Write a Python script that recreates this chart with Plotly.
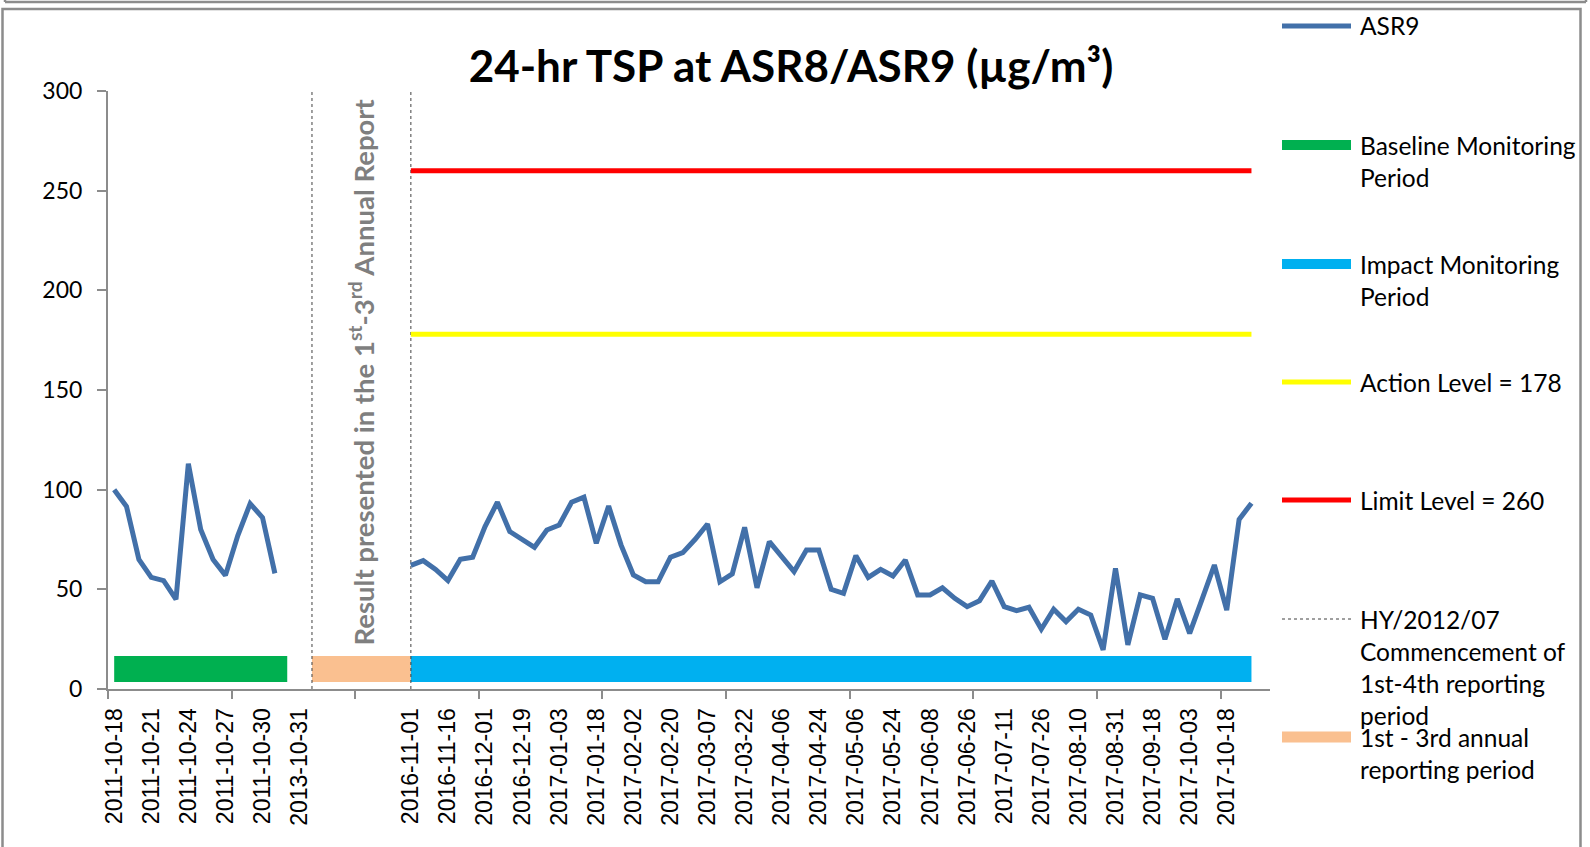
import plotly.graph_objects as go

# ---------------- data ----------------
baseline_values = [100, 91.5, 65, 56, 54.4, 45, 113, 80, 65, 57, 77, 93, 86, 58]
impact_values = [62, 64.4, 60, 54.4, 65.1, 66.1, 81.5, 93.7, 79, 75.3, 71.1, 79.8, 82.3, 93.7,
                 96.2, 73.1, 91.8, 72.3, 57.2, 53.8, 53.8, 66.1, 68.4, 75.1, 82.8, 53.8, 57.7,
                 81.1, 50.8, 73.9, 66.7, 58.9, 69.7, 69.7,
                 50, 48, 66.9, 56, 60, 56.7, 64.7, 47.2, 47.2, 50.8, 45.5, 41.3, 44.3, 54.2,
                 41.3, 39.3, 41, 30, 40, 33.8, 40, 37.1, 19.6, 60.5, 22.1, 47.2, 45.5, 24.9,
                 45.2, 27.9, 45, 62.2, 39.6, 85.1, 93.2]
baseline_start = 0
impact_start = 24
n_categories = 94
x_tick_labels = ["2011-10-18", "2011-10-21", "2011-10-24", "2011-10-27", "2011-10-30",
                 "2013-10-31", "", "", "2016-11-01", "2016-11-16", "2016-12-01", "2016-12-19",
                 "2017-01-03", "2017-01-18", "2017-02-02", "2017-02-20", "2017-03-07",
                 "2017-03-22", "2017-04-06", "2017-04-24", "2017-05-06", "2017-05-24",
                 "2017-06-08", "2017-06-26", "2017-07-11", "2017-07-26", "2017-08-10",
                 "2017-08-31", "2017-09-18", "2017-10-03", "2017-10-18"]
label_step = 3
major_tick_step = 10
baseline_period = [0, 14]
annual_report_period = [16, 24]
impact_period = [24, 92]
period_bar_level = 10
action_level = 178
limit_level = 260
commencement_lines = [16, 24]
y_ticks = [0, 50, 100, 150, 200, 250, 300]

# ---------------- layout geometry ----------------
W, H = 1590, 847
ML, MR, MT, MB = 108, 320, 91, 158
PW, PH = W - ML - MR, H - MT - MB


def px_x(p):
    return (p - ML) / PW


def px_y(p):
    return (H - MB - p) / PH


BLUE = "#4270A9"
GREEN = "#00B050"
LBLUE = "#00B0F0"
ORANGE = "#FAC090"
RED = "#FF0000"
YELLOW = "#FFFF00"
AXIS = "#8C8C8C"

fig = go.Figure()

# period bars
for period, col in [(baseline_period, GREEN), (annual_report_period, ORANGE), (impact_period, LBLUE)]:
    fig.add_trace(go.Scatter(x=period, y=[period_bar_level] * 2, mode="lines",
                             line=dict(color=col, width=26), hoverinfo="skip"))

# commencement dotted lines
for c in commencement_lines:
    fig.add_trace(go.Scatter(x=[c, c], y=[y_ticks[0], y_ticks[-1]], mode="lines",
                             line=dict(color="#404040", width=1, dash="dot"), hoverinfo="skip"))

# action / limit levels
fig.add_trace(go.Scatter(x=impact_period, y=[action_level] * 2, mode="lines",
                         line=dict(color=YELLOW, width=5)))
fig.add_trace(go.Scatter(x=impact_period, y=[limit_level] * 2, mode="lines",
                         line=dict(color=RED, width=5)))

# ASR9 series
xs = list(range(baseline_start, baseline_start + len(baseline_values))) + [None] + \
     list(range(impact_start, impact_start + len(impact_values)))
ys = baseline_values + [None] + impact_values
fig.add_trace(go.Scatter(x=xs, y=ys, mode="lines", connectgaps=False,
                         line=dict(color=BLUE, width=5)))

tickvals = [i * label_step for i in range(len(x_tick_labels))]
minor_vals = [k - 0.5 for k in range(0, n_categories + 1, major_tick_step)]

fig.update_layout(
    width=W, height=H, showlegend=False,
    margin=dict(l=ML, r=MR, t=MT, b=MB),
    paper_bgcolor="white", plot_bgcolor="white",
    title=dict(text="24-hr TSP at ASR8/ASR9 (µg/m³)", x=791 / W, y=1 - 67 / H,
               xref="container", yref="container", xanchor="center", yanchor="middle",
               font=dict(family="Lato", size=44, color="black", weight="bold")),
    xaxis=dict(range=[-0.5, n_categories - 0.5], tickmode="array", tickvals=tickvals,
               ticktext=x_tick_labels, tickangle=-90, ticks="", showgrid=False,
               zeroline=False, showline=True, linecolor=AXIS, linewidth=2,
               ticklabelstandoff=8,
               tickfont=dict(family="Liberation Sans", size=23, color="black"),
               minor=dict(tickmode="array", tickvals=minor_vals, ticks="outside",
                          ticklen=8, tickwidth=2, tickcolor=AXIS, showgrid=False)),
    yaxis=dict(range=[0, 300], tickmode="array", tickvals=y_ticks, ticks="outside",
               ticklen=9, tickwidth=2, tickcolor=AXIS, showgrid=False, zeroline=False,
               showline=True, linecolor=AXIS, linewidth=2, ticklabelstandoff=10,
               tickfont=dict(family="Lato", size=23, color="black")),
)

# rotated note
fig.add_annotation(x=sum(annual_report_period) / 2, y=159, xref="x", yref="y",
                   text="Result presented in the 1<sup>st</sup>-3<sup>rd</sup> Annual Report",
                   textangle=-90, showarrow=False, xanchor="center", yanchor="middle",
                   font=dict(family="Lato", size=27.5, color="#7F7F7F", weight="bold"))

# frame
shapes = []
shapes.append(dict(type="rect", xref="paper", yref="paper",
                   x0=px_x(2.5), x1=px_x(1580.5), y0=px_y(900), y1=px_y(9),
                   line=dict(color=AXIS, width=2.5), fillcolor="rgba(0,0,0,0)", layer="below"))
shapes.append(dict(type="line", xref="paper", yref="paper",
                   x0=px_x(5), x1=px_x(1586), y0=px_y(2), y1=px_y(2),
                   line=dict(color=AXIS, width=2.5)))
for xx in (5, 1586):
    shapes.append(dict(type="line", xref="paper", yref="paper",
                       x0=px_x(xx), x1=px_x(xx), y0=px_y(-5), y1=px_y(2),
                       line=dict(color=AXIS, width=2.5)))

# legend (manual, to match the evenly spread entries)
legend_items = [
    (26, BLUE, 5, "solid", ["ASR9"]),
    (145, GREEN, 10, "solid", ["Baseline Monitoring", "Period"]),
    (264, LBLUE, 10, "solid", ["Impact Monitoring", "Period"]),
    (382, YELLOW, 5, "solid", ["Action Level = 178"]),
    (500, RED, 5, "solid", ["Limit Level = 260"]),
    (619, "#404040", 1, "dot", ["HY/2012/07", "Commencement of", "1st-4th reporting", "period"]),
    (737, ORANGE, 11, "solid", ["1st - 3rd annual", "reporting period"]),
]
for yy, col, wd, dash, lines in legend_items:
    shapes.append(dict(type="line", xref="paper", yref="paper",
                       x0=px_x(1282), x1=px_x(1351), y0=px_y(yy), y1=px_y(yy),
                       line=dict(color=col, width=wd, dash=dash)))
    for i, t in enumerate(lines):
        fig.add_annotation(x=px_x(1358), y=px_y(yy + 32 * i), xref="paper", yref="paper",
                           text=t, showarrow=False, xanchor="left", yanchor="middle",
                           font=dict(family="Lato", size=24.5, color="black"))

fig.update_layout(shapes=shapes)
fig.write_html("out.html", config={"displayModeBar": False},
               post_script="document.body.style.margin='0';document.body.style.overflow='hidden';")
